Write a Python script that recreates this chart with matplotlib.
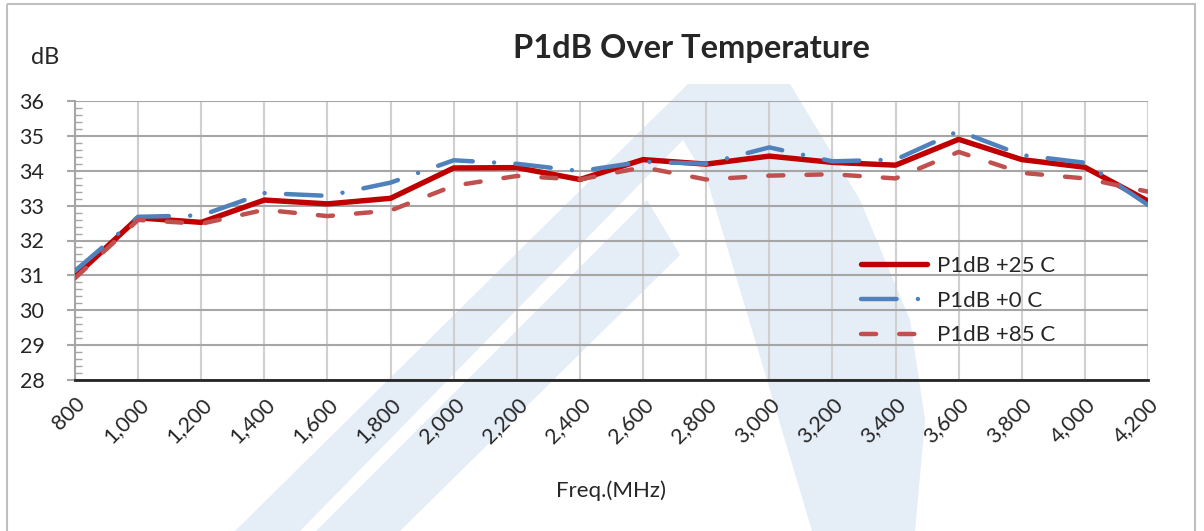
import matplotlib
matplotlib.use('Agg')
import matplotlib.pyplot as plt
from matplotlib.patches import Polygon, Rectangle

freq = [800, 1000, 1200, 1400, 1600, 1800, 2000, 2200, 2400, 2600,
        2800, 3000, 3200, 3400, 3600, 3800, 4000, 4200]
p1db_25 = [30.97, 32.65, 32.52, 33.16, 33.05, 33.21, 34.08, 34.09, 33.75,
           34.32, 34.19, 34.42, 34.24, 34.16, 34.90, 34.32, 34.10, 33.13]
p1db_0 = [31.13, 32.68, 32.72, 33.36, 33.28, 33.66, 34.30, 34.20, 33.99,
          34.26, 34.20, 34.67, 34.27, 34.32, 35.14, 34.45, 34.23, 33.02]
p1db_85 = [30.92, 32.59, 32.48, 32.88, 32.70, 32.86, 33.57, 33.85, 33.75,
           34.10, 33.75, 33.86, 33.90, 33.78, 34.54, 33.94, 33.78, 33.40]
labels = ['P1dB +25 C', 'P1dB +0 C', 'P1dB +85 C']
xticklabels = [f'{f:,}' for f in freq]

plt.rcParams['font.family'] = ['Lato', 'DejaVu Sans']

W, H = 1204, 531
fig = plt.figure(figsize=(W / 100, H / 100), dpi=100)

# background: frame + faint logo watermark
bg = fig.add_axes([0, 0, 1, 1], zorder=0)
bg.set_xlim(0, W)
bg.set_ylim(H, 0)
bg.axis('off')
wm = '#e5edf7'
bg.add_patch(Polygon([(235, 531), (688, 84), (790, 84), (860, 200), (910, 320),
                      (925, 420), (915, 531)], closed=True, fc=wm, ec='none'))
bg.add_patch(Polygon([(300, 531), (683, 140), (707, 180), (767, 380), (812, 531)],
                     closed=True, fc='white', ec='none'))
bg.add_patch(Polygon([(316, 531), (647, 200), (680, 255), (400, 531)],
                     closed=True, fc=wm, ec='none'))
bg.add_patch(Rectangle((7, 4), 1188, 540, fill=False, ec='#bfbfbf', lw=1.5))

ax = fig.add_axes([75 / W, 1 - 380 / H, (1148 - 75) / W, (380 - 101) / H], zorder=1)
ax.patch.set_alpha(0)

ax.plot(freq, p1db_25, color='#C00000', lw=3.9, label=labels[0],
        solid_capstyle='round', solid_joinstyle='round', zorder=3)
ax.plot(freq, p1db_0, color='#4F81BD', lw=3.2, label=labels[1],
        linestyle=(0, (8.0, 4.8, 0.01, 4.8)), dash_capstyle='round', zorder=3)
ax.plot(freq, p1db_85, color='#C0504D', lw=3.2, label=labels[2],
        linestyle=(0, (3.4, 5.2)), dash_capstyle='round', zorder=3)

ax.set_xlim(800, 4200)
ax.set_ylim(28, 36)
ax.set_xticks(freq)
ax.set_xticklabels(xticklabels, rotation=45, ha='right', va='top',
                   rotation_mode='anchor', fontsize=15.5, color='#262626')
ax.set_yticks(range(28, 37))
ax.tick_params(axis='y', labelsize=15.5, labelcolor='#262626', length=6,
               width=1.5, color='#a6a6a6', pad=16)
ax.tick_params(axis='x', length=0, pad=10)
ax.set_yticks([28 + 0.2 * i for i in range(41)], minor=True)
ax.tick_params(axis='y', which='minor', direction='in', length=5, width=1,
               color='#a6a6a6')

ax.grid(axis='y', color='#a6a6a6', lw=1.5)
ax.grid(axis='x', color='#d0d0d0', lw=1.5)
for s in ['top', 'right']:
    ax.spines[s].set_visible(False)
ax.spines['left'].set_color('#a6a6a6')
ax.spines['left'].set_linewidth(1.5)
ax.spines['bottom'].set_color('#262626')
ax.spines['bottom'].set_linewidth(2)

ax.set_xlabel('Freq.(MHz)', fontsize=16, color='#262626', labelpad=24.5)
fig.text(45 / W, 1 - 57 / H, 'dB', fontsize=17, color='#262626',
         ha='center', va='center')
fig.text(691 / W, 1 - 48 / H, 'P1dB Over Temperature', fontsize=23.5,
         fontweight='bold', color='#262626', ha='center', va='center')

ax.legend(loc='upper left', bbox_to_anchor=((861 - 75) / (1148 - 75), 1 - (256 - 101) / (380 - 101)),
          frameon=False, fontsize=16, handlelength=2.95, handletextpad=0.45,
          labelspacing=0.66, borderaxespad=0, borderpad=0, labelcolor='#262626')

fig.savefig('out.png', dpi=100)
